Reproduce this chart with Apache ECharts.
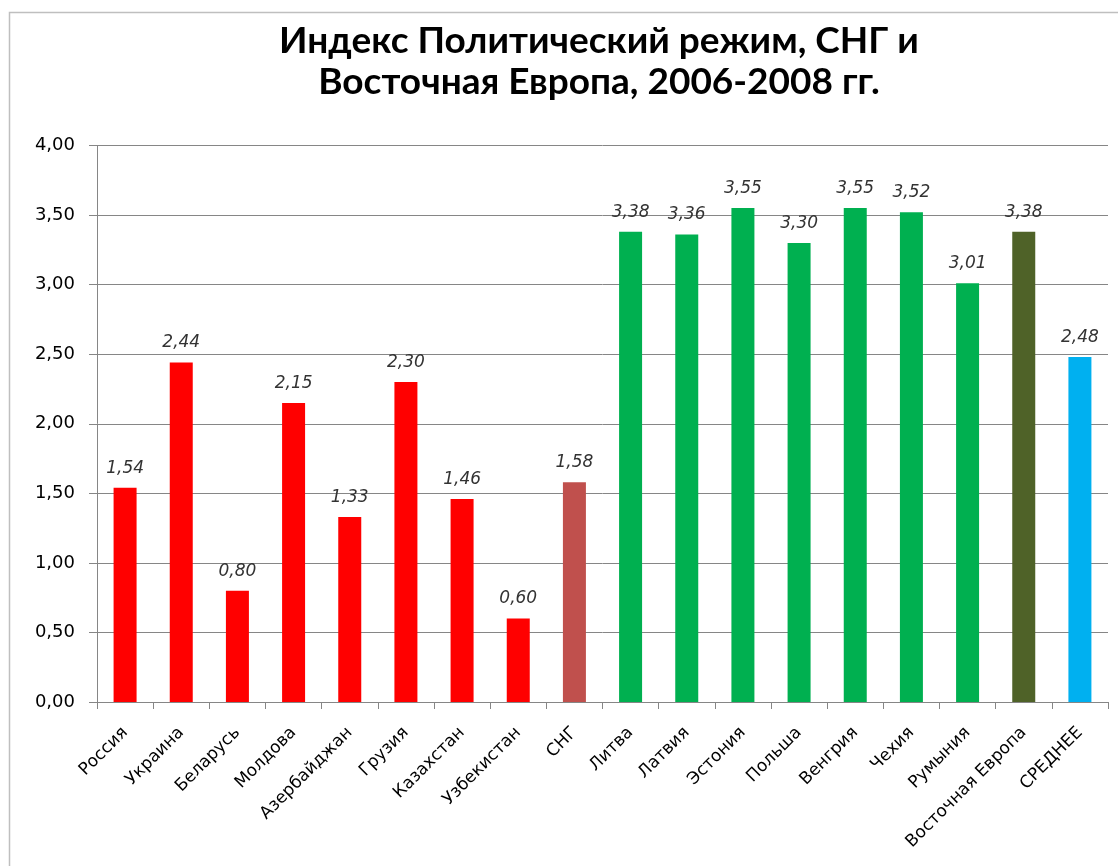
<!DOCTYPE html>
<html><head><meta charset="utf-8">
<script src="https://cdn.jsdelivr.net/npm/echarts@6/dist/echarts.min.js"></script>
<style>html,body{margin:0;padding:0;background:#fff}#c{width:1118px;height:866px}</style>
</head><body><div id="c"></div>
<script>
const categories = ['Россия','Украина','Беларусь','Молдова','Азербайджан','Грузия','Казахстан','Узбекистан','СНГ','Литва','Латвия','Эстония','Польша','Венгрия','Чехия','Румыния','Восточная Европа','СРЕДНЕЕ'];
const values = [1.54,2.44,0.80,2.15,1.33,2.30,1.46,0.60,1.58,3.38,3.36,3.55,3.30,3.55,3.52,3.01,3.38,2.48];
const barColors = ['#FF0000','#FF0000','#FF0000','#FF0000','#FF0000','#FF0000','#FF0000','#FF0000','#C0504D','#00B050','#00B050','#00B050','#00B050','#00B050','#00B050','#00B050','#4F6228','#00B0F0'];
const yTicks = {min:0, max:4, interval:0.5};
const titleText = 'Индекс Политический режим, СНГ и\nВосточная Европа, 2006-2008 гг.';

const chart = echarts.init(document.getElementById('c'), null, {renderer:'canvas'});
const fmt = v => v.toFixed(2).replace('.', ',');
chart.setOption({
  backgroundColor:'#fff',
  animation:false,
  graphic:[{type:'rect', shape:{x:9.5,y:12.5,width:1200,height:900}, style:{fill:'none',stroke:'#BFBFBF',lineWidth:1.5}, silent:true}],
  title:{text:titleText, left:594, textAlign:'center', top:16,
    textStyle:{fontFamily:'Lato', fontWeight:'bold', fontSize:37, color:'#000', lineHeight:41}},
  grid:{left:97, right:10, top:145.5, bottom:164, containLabel:false},
  xAxis:{type:'category', data:categories,
    axisLine:{lineStyle:{color:'#868686', width:1}},
    axisTick:{show:true, length:7, lineStyle:{color:'#868686'}},
    axisLabel:{interval:0, rotate:45, fontFamily:'DejaVu Sans', fontSize:17, color:'#000', margin:28}},
  yAxis:{type:'value', min:yTicks.min, max:yTicks.max, interval:yTicks.interval,
    axisLine:{show:true, lineStyle:{color:'#868686'}},
    axisTick:{show:true, length:8, lineStyle:{color:'#868686'}},
    splitLine:{lineStyle:{color:'#868686', width:1}},
    axisLabel:{formatter:fmt, fontFamily:'DejaVu Sans', fontSize:18, color:'#000', margin:22}},
  series:[{type:'bar', barWidth:23,
    data: values.map((v,i)=>({value:v, itemStyle:{color:barColors[i]}})),
    label:{show:true, position:'top', distance:11, formatter:p=>fmt(p.value),
      fontFamily:'DejaVu Sans', fontStyle:'italic', fontSize:17, color:'#333'}}]
});
</script></body></html>
